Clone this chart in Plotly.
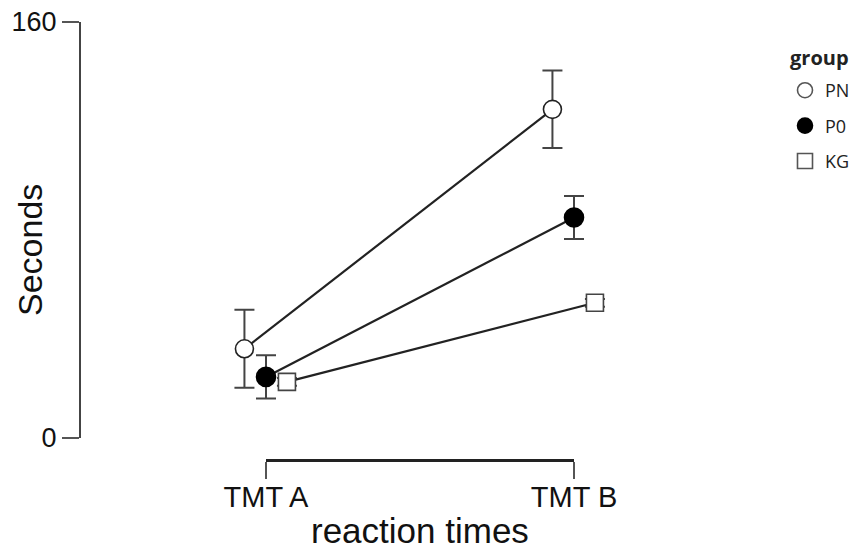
import plotly.graph_objects as go

categories = ["TMT A", "TMT B"]
groups = ["PN", "P0", "KG"]
PN = [34.3, 126.4]
PN_err = [15.0, 14.9]
P0 = [23.5, 84.8]
P0_err = [8.3, 8.3]
KG = [21.6, 52.0]
KG_err = [1.5, 1.5]
dodge = [-0.07, 0.0, 0.068]
y_ticks = [0, 160]

values = [PN, P0, KG]
errors = [PN_err, P0_err, KG_err]
symbols = ["circle", "circle", "square"]
fills = ["white", "black", "white"]
outline = ["#222", "#000", "#444"]
sizes = [18, 19, 17]

W, H = 855, 551
L, R, T, B = 81, 155, 22, 91
plot_w = W - L - R
plot_h = H - T - B
xA, xB = 266, 574  # pixel centre of categories
unit = xB - xA
x_range = [-(xA - L) / unit, (W - R - xA) / unit]
y_bottom_px = 438

fig = go.Figure()
for g, vals, errs, sym, fc, oc, sz, off in zip(groups, values, errors, symbols, fills, outline, sizes, dodge):
    fig.add_trace(go.Scatter(
        x=[i + off for i in range(len(categories))], y=vals,
        mode="lines+markers",
        line=dict(color="#222", width=2.2),
        marker=dict(symbol=sym, size=sz, color=fc, line=dict(color=oc, width=1.6)),
        error_y=dict(type="data", array=errs, visible=True, color="#444", thickness=2, width=10),
        showlegend=False, hoverinfo="skip", xaxis="x", yaxis="y"))

for g, sym, fc, oc in zip(groups, symbols, fills, outline):
    fig.add_trace(go.Scatter(
        x=[None], y=[None], mode="markers", name=g, legendgroup=g,
        marker=dict(symbol=sym, size=15, color=fc, line=dict(color="#555" if fc == "white" else "#000", width=1.6)),
        xaxis="x", yaxis="y"))

# dummy trace so the bracket axis is drawn
fig.add_trace(go.Scatter(x=categories, y=[None, None], mode="markers", showlegend=False,
                         hoverinfo="skip", xaxis="x2", yaxis="y"))

fig.update_layout(
    width=W, height=H,
    margin=dict(l=L, r=R, t=T, b=B, autoexpand=False),
    paper_bgcolor="white", plot_bgcolor="rgba(0,0,0,0)",
    font=dict(family="Liberation Sans, Arial, sans-serif", color="#111"),
    xaxis=dict(range=x_range, visible=False, domain=[0, 1], showgrid=False, zeroline=False,
               automargin=False),
    xaxis2=dict(type="category", range=[0, 1], anchor="free", position=0,
                domain=[(xA - L) / plot_w, (xB - L) / plot_w],
                showline=True, linecolor="#222", linewidth=3,
                ticks="outside", ticklen=17, tickwidth=2, tickcolor="#555",
                ticklabelstandoff=-7,
                tickfont=dict(size=29, color="#111"), automargin=False,
                showgrid=False, zeroline=False),
    yaxis=dict(range=[0, 160], domain=[((H - B) - y_bottom_px) / plot_h, 1],
               tickvals=y_ticks, showline=True, linecolor="#444", linewidth=2,
               ticks="outside", ticklen=17, tickwidth=2, tickcolor="#555", automargin=False,
               tickfont=dict(size=27, color="#111"), showgrid=False, zeroline=False),
    legend=dict(x=(785 - L) / plot_w, y=1 - (72 - T) / plot_h, xanchor="left", yanchor="top",
                font=dict(size=18, family="Open Sans, sans-serif", color="#222"),
                tracegroupgap=9, bgcolor="rgba(0,0,0,0)"),
    annotations=[
        dict(text="Seconds", textangle=-90, xref="paper", yref="paper",
             xanchor="center", yanchor="middle",
             x=(30 - L) / plot_w, y=1 - (250 - T) / plot_h, showarrow=False,
             font=dict(size=34, color="#111")),
        dict(text="reaction times", xref="paper", yref="paper",
             xanchor="center", yanchor="middle",
             x=((xA + xB) / 2 - L) / plot_w, y=1 - (530 - T) / plot_h, showarrow=False,
             font=dict(size=35, color="#111")),
        dict(text="<b>group</b>", xref="paper", yref="paper",
             xanchor="left", yanchor="middle",
             x=(788 - L) / plot_w, y=1 - (57 - T) / plot_h, showarrow=False,
             font=dict(size=20, family="Open Sans, sans-serif", color="#222")),
    ],
)

fig.write_html("out.html")
